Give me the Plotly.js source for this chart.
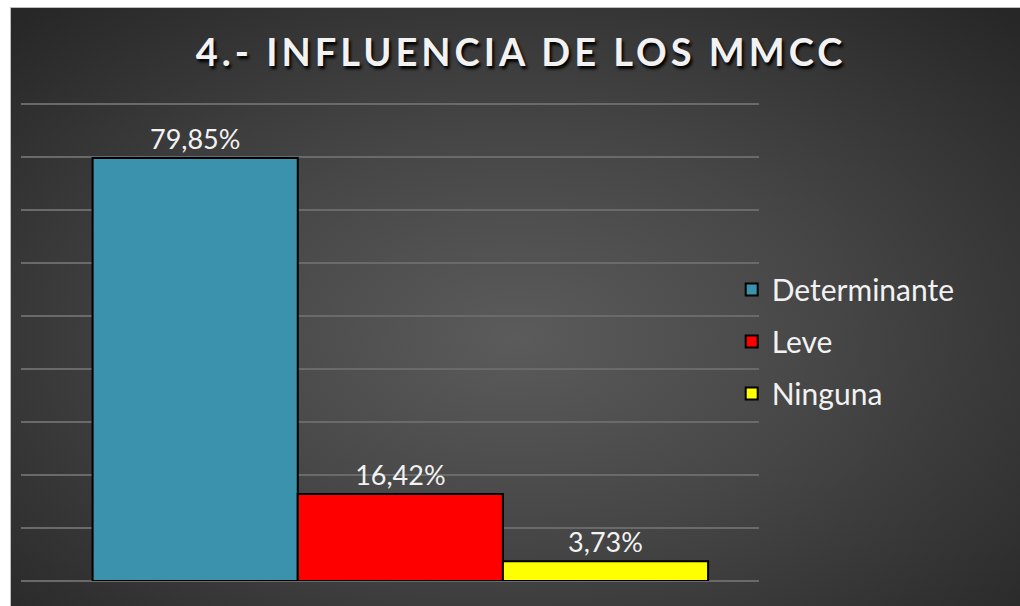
<!DOCTYPE html>
<html>
<head>
<meta charset="utf-8">
<script src="https://cdn.plot.ly/plotly-3.0.1.min.js"></script>
<style>
    html, body { margin: 0; padding: 0; background: #ffffff; }
    #chart {
        position: absolute;
        left: 10px;
        top: 7px;
        width: 1010px;
        height: 599px;
        background: radial-gradient(ellipse 70% 75% at 50% 55%, #5b5b5b 0%, #464646 45%, #272727 100%);
        border-top: 1px solid #bdbdbd;
        border-left: 1px solid #bdbdbd;
        box-sizing: border-box;
    }
</style>
</head>
<body>
<div id="chart"></div>
<script>
// Chart data
const seriesNames = ['Determinante', 'Leve', 'Ninguna'];
const seriesValues = [79.85, 16.42, 3.73];
const seriesColors = ['#3b92ad', '#ff0000', '#ffff00'];
const category = [''];

const traces = seriesNames.map((name, i) => ({
    type: 'bar',
    name: name,
    legendgroup: 'g' + i,
    x: category,
    y: [seriesValues[i]],
    marker: { color: seriesColors[i], line: { color: '#000000', width: 2 } },
    texttemplate: '%{y:.2f}%',
    textposition: 'outside',
    cliponaxis: false,
    textfont: { family: 'Lato, sans-serif', size: 27, color: '#f2f2f2' },
    hoverinfo: 'skip'
}));

const layout = {
    width: 1010,
    height: 599,
    separators: ',.',
    paper_bgcolor: 'rgba(0,0,0,0)',
    plot_bgcolor: 'rgba(0,0,0,0)',
    margin: { l: 10, r: 262, t: 94, b: 26 },
    barmode: 'group',
    bargap: 0.166,
    bargroupgap: 0,
    title: {
        text: '4.- INFLUENCIA DE LOS MMCC',
        x: 0.505,
        xref: 'container',
        y: 0.925,
        yref: 'container',
        yanchor: 'middle',
        font: {
            family: 'Lato, sans-serif',
            size: 38,
            weight: 'bold',
            color: '#f2f2f2',
            shadow: '2px 3px 3px #000000'
        }
    },
    xaxis: {
        type: 'category',
        range: [-0.514, 0.486],
        showticklabels: false,
        showgrid: false,
        zeroline: false,
        fixedrange: true
    },
    yaxis: {
        range: [0, 90.4],
        dtick: 10,
        showticklabels: false,
        showgrid: true,
        gridcolor: '#6a6a6a',
        gridwidth: 2,
        zeroline: true,
        zerolinecolor: '#6a6a6a',
        zerolinewidth: 2,
        fixedrange: true
    },
    showlegend: true,
    legend: {
        x: 0.963,
        xanchor: 'left',
        y: 0.5,
        yanchor: 'middle',
        bgcolor: 'rgba(0,0,0,0)',
        font: { family: 'Lato, sans-serif', size: 30, color: '#f2f2f2' },
        tracegroupgap: 10,
        itemwidth: 30
    }
};

Plotly.newPlot('chart', traces, layout, { displayModeBar: false, staticPlot: true }).then(gd => {
    const t = gd.querySelector('.gtitle');
    if (t) t.style.letterSpacing = '4px';
});
</script>
</body>
</html>
